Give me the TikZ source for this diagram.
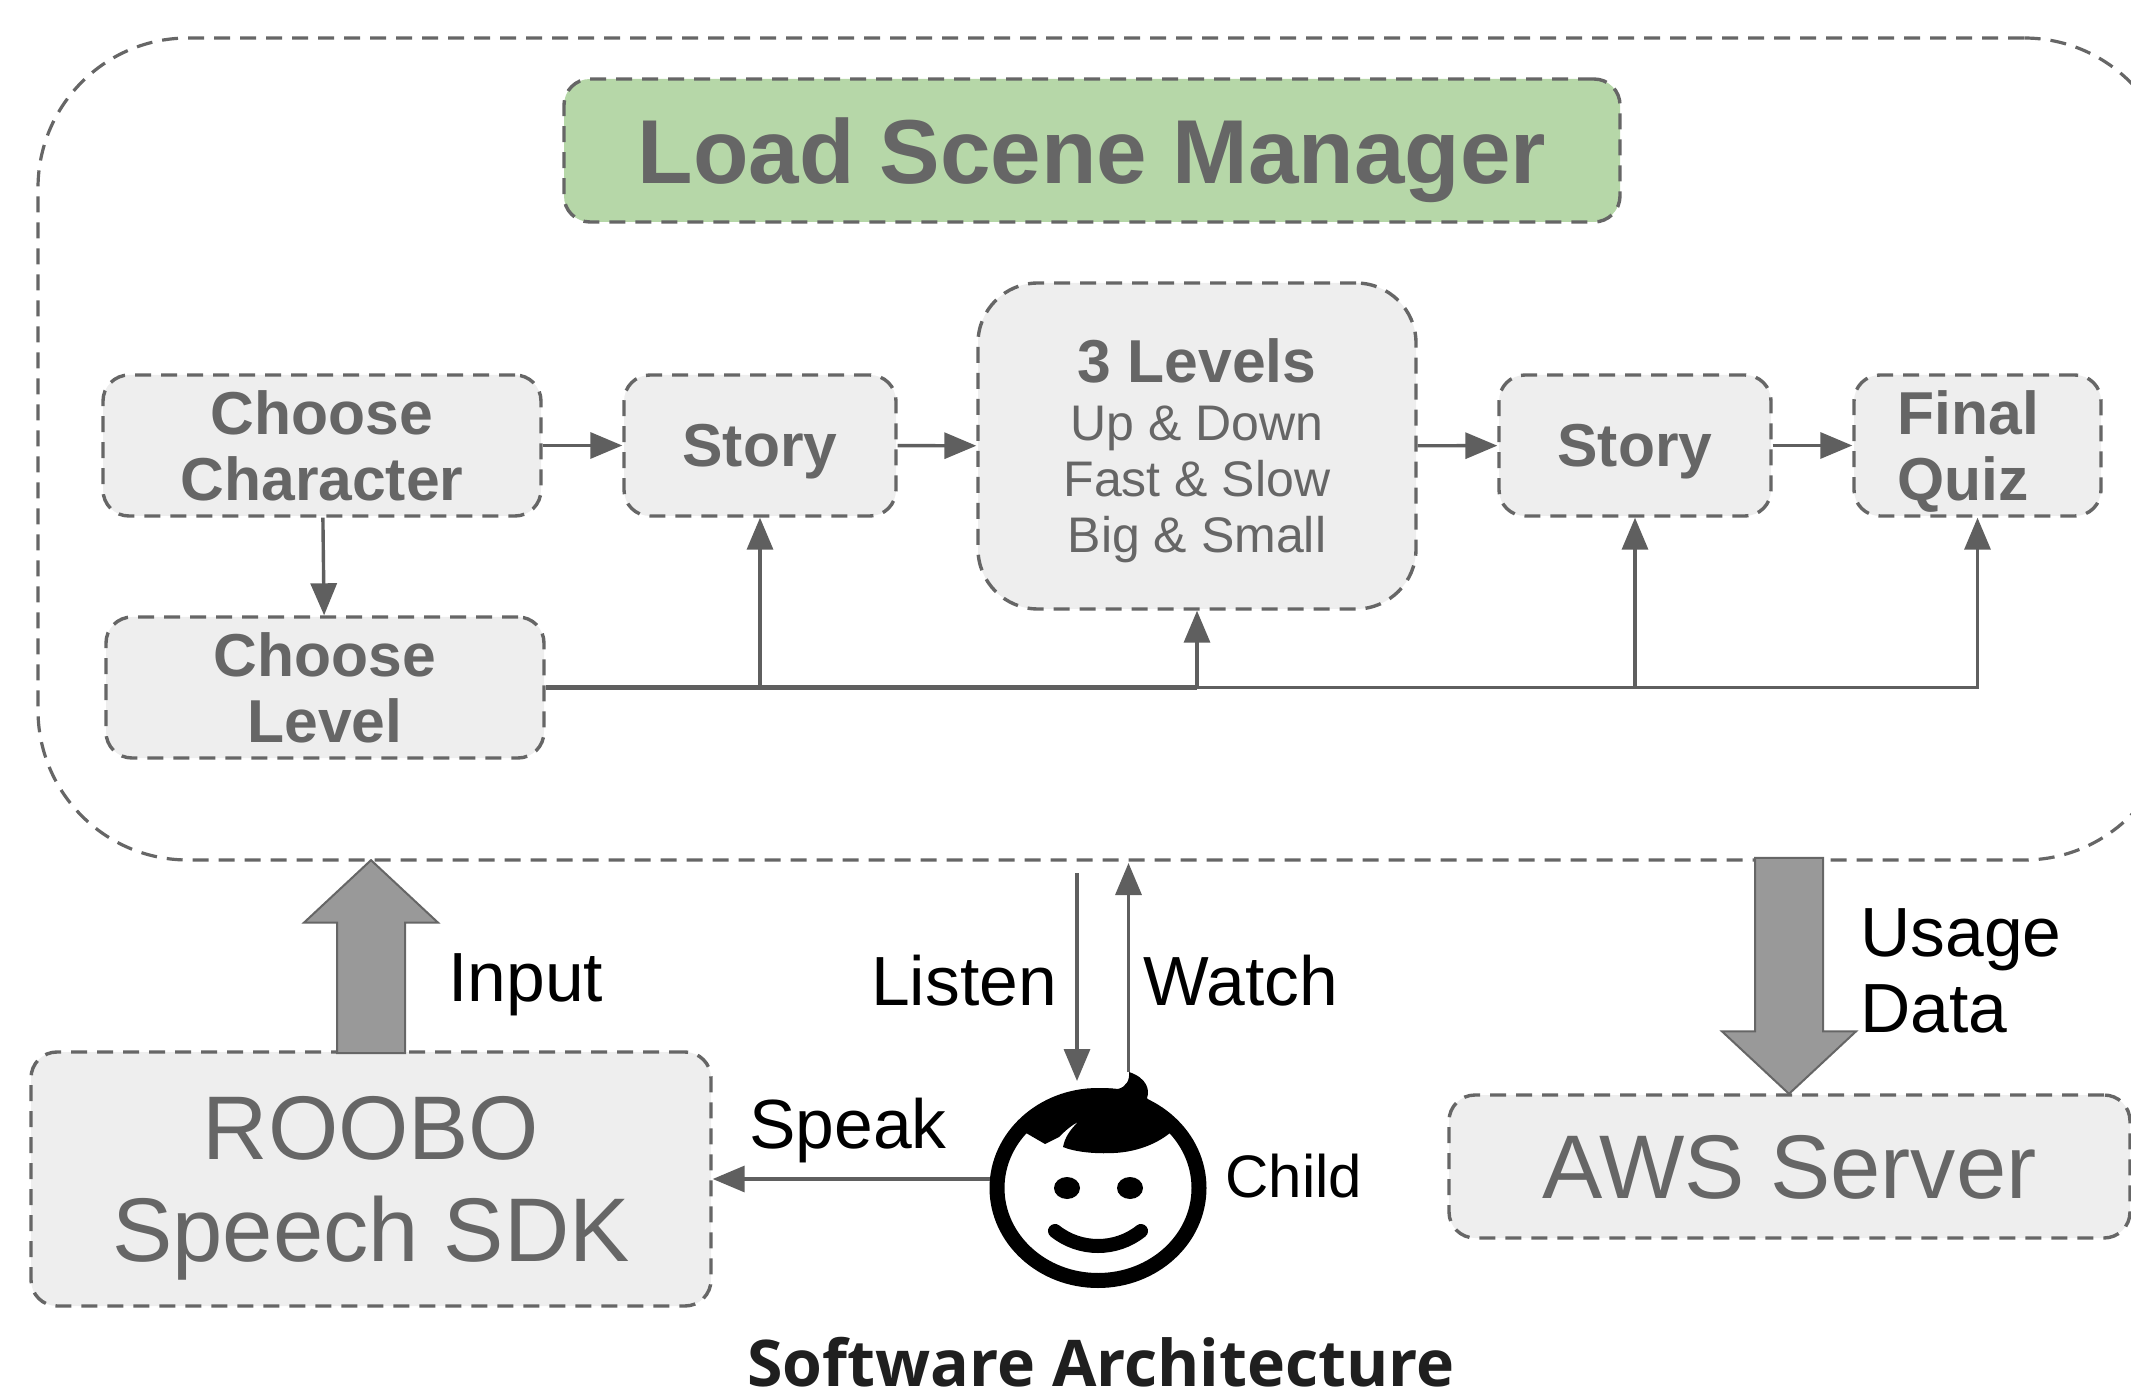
\documentclass[tikz,border=0pt]{standalone}
\usepackage{xcolor}
\usepackage{fontspec}
\setmainfont{Liberation Sans}
\newfontfamily\titlefont{Open Sans}
\usepackage{tikz}
\usetikzlibrary{calc}
\usetikzlibrary{arrows.meta}
\usetikzlibrary{shapes.arrows}
\usetikzlibrary{shapes.geometric}
\definecolor{boxgray}{HTML}{EEEEEE}
\definecolor{inkgray}{HTML}{666666}
\definecolor{linegray}{HTML}{5F5F5F}
\definecolor{bigarrow}{HTML}{999999}
\definecolor{loadgreen}{HTML}{B6D7A8}
\newcommand{\fsize}[2]{\fontsize{#1}{#2}\selectfont}
\tikzset{>={Triangle[length=16pt,width=13pt]}}
\tikzset{dashbox/.style = {rectangle, draw=inkgray, line width=1.7pt, dash pattern=on 8pt off 5pt, fill=boxgray, text=inkgray, rounded corners=13pt, inner sep=0pt, text depth=0pt, align=center}}
\tikzset{smallbox/.style = {dashbox, font=\fsize{30.3}{32.6}\bfseries, minimum height=70.5pt}}
\tikzset{bigbox/.style = {dashbox, font=\fsize{45.2}{51}}}
\tikzset{link/.style = {->, draw=linegray, line width=1.7pt}}
\tikzset{label/.style = {inner sep=0pt, text=black, align=left, font=\fsize{34.8}{38}}}
\tikzset{blockarrow/.style = {single arrow, draw=inkgray, line width=1pt, fill=bigarrow, inner sep=0pt, minimum width=66pt, single arrow head extend=16.5pt, single arrow tip angle=94}}

\begin{document}
\begin{tikzpicture}[x=0.5pt, y=-0.5pt]
\path [use as bounding box, clip] (0, 0) rectangle (2131, 1395);
% outer frame, runs past the right edge
\node [rectangle, draw=inkgray, line width=1.6pt, dash pattern=on 8pt off 5pt, rounded corners=75pt, minimum width=1068pt, minimum height=411pt] (Frame) at (1106, 449) {};
\node [dashbox, fill=loadgreen, font=\fsize{45.4}{50}\bfseries, minimum width=528pt, minimum height=71.5pt] (Load) at (1092, 150.5) {Load Scene Manager};
% upper row
\node [smallbox, minimum width=219pt] (Char) at (322, 445.5) {Choose\\Character};
\node [smallbox, minimum width=219pt] (Level) at (325, 687.5) {Choose\\Level};
\node [smallbox, minimum width=136pt] (StoryA) at (760, 445.5) {Story};
\node [dashbox, rounded corners=30pt, minimum width=219pt, minimum height=163pt, font=\fsize{25}{28}] (Levels) at (1197, 446) {{\fsize{30.3}{30}\bfseries 3 Levels}\\[1pt]Up \& Down\\Fast \& Slow\\Big \& Small};
\node [smallbox, minimum width=136pt] (StoryB) at (1635, 445.5) {Story};
\node [smallbox, minimum width=123.5pt, align=left] (Quiz) at (1977.5, 445.5) {Final\hspace*{9pt}\\Quiz};
% bottom boxes
\node [bigbox, minimum width=340pt, minimum height=127pt] (Roobo) at (371, 1179) {ROOBO\\Speech SDK};
\node [bigbox, minimum width=340.5pt, minimum height=71.5pt] (Aws) at (1789.5, 1166.5) {AWS Server};
% row arrows
\draw [link] (Char) to (StoryA);
\draw [link] (StoryA) to (Levels);
\draw [link] (Levels) to (StoryB);
\draw [link] (StoryB) to (Quiz);
\draw [link] (Char) to (Level);
% bus out of Choose Level
\coordinate (BusMid) at (Levels.south |- Level.east);
\draw [draw=linegray, line width=2.4pt] (Level.east) to (BusMid);
\draw [link] (Level.east) -| (StoryA.south);
\draw [link] (BusMid) to (Levels.south);
\draw [link] (BusMid) -| (StoryB.south);
\draw [link] (BusMid) -| (Quiz.south);
% block arrows
\node [blockarrow, rotate=90, minimum height=96.5pt] (Input) at (371, 972.5) {\rule{0pt}{33pt}};
\node [blockarrow, rotate=-90, minimum height=118pt] (Usage) at (1789, 960) {\rule{0pt}{33pt}};
% child
\node [ellipse, draw=black, fill=white, line width=7.5pt, inner sep=0pt, minimum width=101pt, minimum height=92.5pt] (Child) at (1098, 1188) {};
\fill [black] (1026, 1133) -- (1045, 1144) -- (1059, 1137) .. controls (1066, 1130) and (1072, 1125) .. (1078, 1122) .. controls (1070, 1130) and (1065, 1137) .. (1063, 1147) .. controls (1075, 1152) and (1095, 1154) .. (1114, 1153) .. controls (1135, 1152) and (1155, 1145) .. (1170, 1133) -- (1147, 1098) .. controls (1150, 1090) and (1147, 1078) .. (1129, 1072) .. controls (1130, 1080) and (1126, 1087) .. (1118, 1089) .. controls (1085, 1085) and (1050, 1095) .. (1026, 1133) -- cycle;
\node [ellipse, fill=black, minimum width=13pt, minimum height=11pt, inner sep=0pt] (EyeL) at (1067, 1188) {};
\node [ellipse, fill=black, minimum width=13pt, minimum height=11pt, inner sep=0pt] (EyeR) at (1130, 1188) {};
\draw [black, line width=7pt, line cap=round] (1055, 1231) .. controls (1080, 1251) and (1116, 1251) .. (1141, 1231);
% child arrows
\coordinate (ListenTop) at (1077, 873);
\coordinate (ListenEnd) at (1077, 1081);
\coordinate (WatchTop) at (1128.5, 863);
\coordinate (WatchEnd) at (1128.5, 1072);
\draw [link] (ListenTop) to (ListenEnd);
\draw [link] (WatchEnd) to (WatchTop);
\draw [link] (Child.west |- Roobo.east) to (Roobo.east);
% labels
\node [label, anchor=west] (InputLab) at (448, 985) {Input};
\node [label] (ListenLab) at (964, 981) {Listen};
\node [label] (WatchLab) at (1241, 981) {Watch};
\node [label] (SpeakLab) at (848, 1131) {Speak};
\node [label, font=\fsize{30}{32}] (ChildLab) at (1294, 1176) {Child};
\node [label, anchor=west] (UsageLab) at (1860, 971) {Usage\\Data};
\node [inner sep=0pt, text=black!88, anchor=base, font=\titlefont\fsize{32.2}{34}\bfseries] (Title) at (1101, 1386) {Software Architecture};
\end{tikzpicture}
\end{document}
